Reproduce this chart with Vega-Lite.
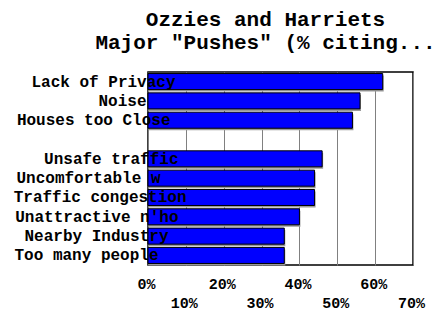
{
  "$schema": "https://vega.github.io/schema/vega-lite/v6.json",
  "autosize": "none",
  "width": 265,
  "height": 193,
  "padding": {"left": 148, "top": 72, "right": 32, "bottom": 46},
  "background": "white",
  "title": {
    "text": ["Ozzies and Harriets", "Major \"Pushes\" (% citing..."],
    "font": "Liberation Mono",
    "fontSize": 21,
    "fontWeight": "bold",
    "color": "black",
    "anchor": "middle",
    "dx": -15,
    "lineHeight": 23,
    "offset": 19
  },
  "data": {
    "values": [
      {"reason": "Lack of Privacy", "pct": 62},
      {"reason": "Noise", "pct": 56},
      {"reason": "Houses too Close", "pct": 54},
      {"reason": " ", "pct": null},
      {"reason": "Unsafe traffic", "pct": 46},
      {"reason": "Uncomfortable w", "pct": 44},
      {"reason": "Traffic congestion", "pct": 44},
      {"reason": "Unattractive n'ho", "pct": 40},
      {"reason": "Nearby Industry", "pct": 36},
      {"reason": "Too many people", "pct": 36}
    ]
  },
  "encoding": {
    "y": {
      "field": "reason",
      "type": "nominal",
      "sort": null,
      "scale": {
        "domain": ["Lack of Privacy", "Noise", "Houses too Close", " ", "Unsafe traffic", "Uncomfortable w", "Traffic congestion", "Unattractive n'ho", "Nearby Industry", "Too many people"],
        "paddingInner": 0.17,
        "paddingOuter": 0.08
      },
      "axis": {
        "title": null,
        "domain": false,
        "ticks": false,
        "grid": false,
        "labelFont": "Liberation Mono",
        "labelFontSize": 16,
        "labelFontWeight": "bold",
        "labelColor": "black",
        "labelAlign": "right",
        "labelPadding": {
          "condition": [
            {"test": "datum.value === 'Lack of Privacy'", "value": -27},
            {"test": "datum.value === 'Noise'", "value": 2},
            {"test": "datum.value === 'Unsafe traffic'", "value": -30},
            {"test": "datum.value === 'Uncomfortable w'", "value": -12},
            {"test": "datum.value === 'Traffic congestion'", "value": -38},
            {"test": "datum.value === 'Unattractive n\\'ho'", "value": -30},
            {"test": "datum.value === 'Nearby Industry'", "value": -20},
            {"test": "datum.value === 'Too many people'", "value": -10}
          ],
          "value": -22
        },
        "labelLimit": 300,
        "zindex": 1
      }
    },
    "x": {
      "field": "pct",
      "type": "quantitative",
      "scale": {"domain": [0, 70], "nice": false},
      "axis": {
        "title": null,
        "values": [0, 10, 20, 30, 40, 50, 60, 70],
        "labelExpr": "datum.value % 20 == 0 ? datum.value + '%' : ['', datum.value + '%']",
        "labelFont": "Liberation Mono",
        "labelFontSize": 15,
        "labelFontWeight": "bold",
        "labelColor": "black",
        "labelBaseline": "top",
        "labelLineHeight": 19,
        "labelPadding": 11,
        "labelOffset": -2,
        "labelFlush": false,
        "labelOverlap": false,
        "domain": false,
        "ticks": false,
        "grid": true,
        "gridColor": "#808080",
        "gridWidth": 1,
        "gridOpacity": 1
      }
    }
  },
  "layer": [
    {
      "mark": {"type": "bar", "color": "#9a9a9a", "xOffset": 1, "yOffset": 2}
    },
    {
      "mark": {"type": "bar", "fill": "#0000FF", "stroke": "black", "strokeWidth": 1}
    }
  ],
  "config": {
    "view": {"stroke": "black", "strokeWidth": 1.5}
  }
}
